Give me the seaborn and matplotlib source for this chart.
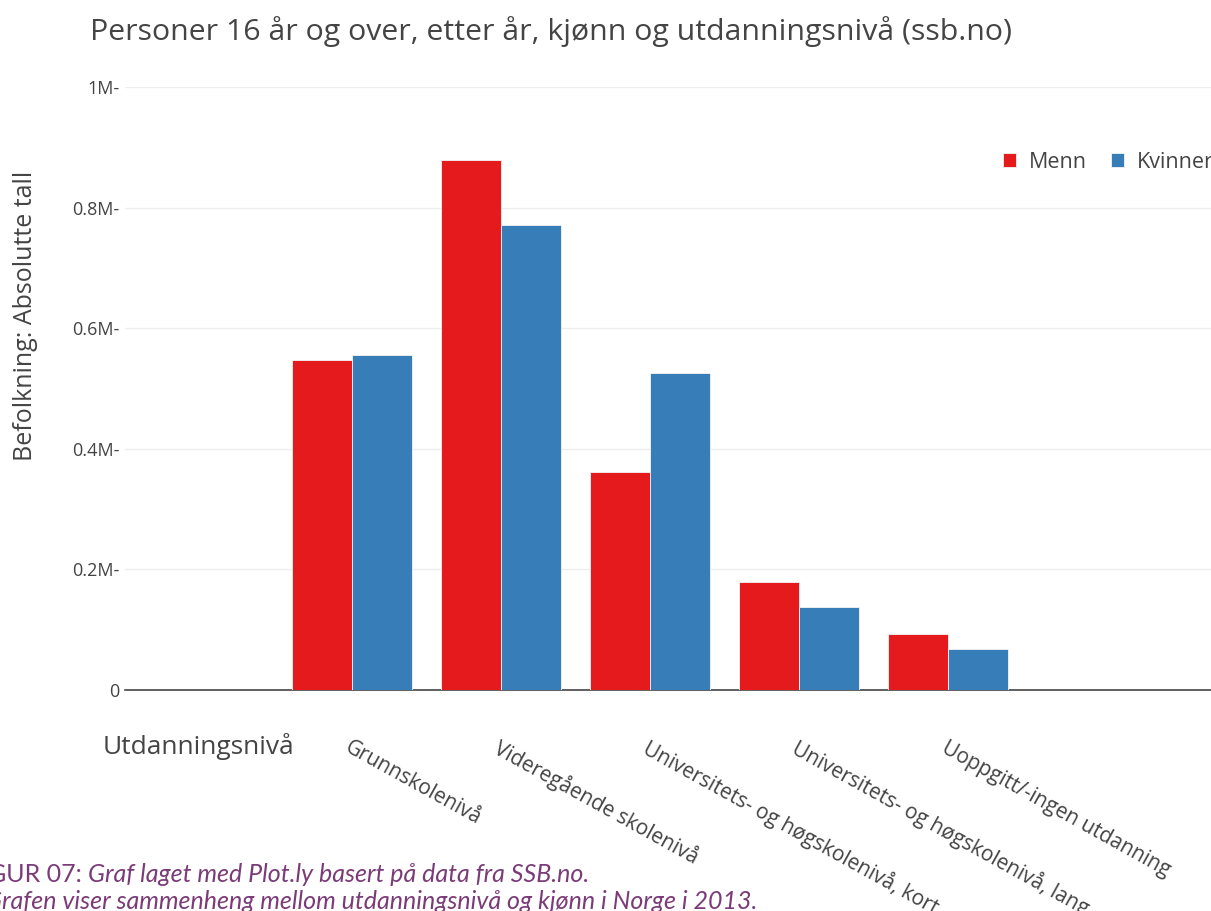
import seaborn as sns
import pandas as pd
import matplotlib.pyplot as plt
from matplotlib.ticker import FixedLocator

# data
levels = ["Grunnskolenivå", "Videregående skolenivå", "Universitets- og høgskolenivå, kort",
          "Universitets- og høgskolenivå, lang", "Uoppgitt/-ingen utdanning"]
menn = [547000, 879000, 362000, 179000, 93000]
kvinner = [556000, 771000, 526000, 138000, 68000]
y_ticks = [0, 200000, 400000, 600000, 800000, 1000000]
y_tick_labels = ["0", "0.2M-", "0.4M-", "0.6M-", "0.8M-", "1M-"]

df = pd.DataFrame({
    "Utdanningsnivå": levels * 2,
    "Kjønn": ["Menn"] * len(levels) + ["Kvinner"] * len(levels),
    "Antall": menn + kvinner,
})

sns.set_style("white")
plt.rcParams["font.family"] = ["Open Sans", "DejaVu Sans"]

W, H = 1211, 911
fig = plt.figure(figsize=(W / 100, H / 100), dpi=100)
ax = fig.add_axes([125 / W, (H - 690) / H, (1320 - 125) / W, 603 / H])

sns.barplot(data=df, x="Utdanningsnivå", y="Antall", hue="Kjønn",
            palette=["#e41a1c", "#377eb8"], saturation=1, width=0.8,
            edgecolor="#f4f4f4", linewidth=0.6, ax=ax, zorder=3)

ax.set_xlim(-1.523, (1320 - 352) / 149)
ax.set_ylim(0, 1000000)
ax.yaxis.set_major_locator(FixedLocator(y_ticks))
ax.set_yticklabels(y_tick_labels, fontsize=13, color="#444444")
ax.tick_params(axis="y", length=0, pad=4)
ax.grid(axis="y", color="#eeeeee", linewidth=1, zorder=0)
for s in ["top", "right", "left"]:
    ax.spines[s].set_visible(False)
ax.spines["bottom"].set_color("#444444")
ax.spines["bottom"].set_linewidth(1.2)

ax.set_xticks(range(len(levels)))
ax.set_xticklabels(levels, rotation=-29, ha="left", va="top",
                   rotation_mode="anchor", fontsize=15, color="#444444")
ax.tick_params(axis="x", length=0, pad=34)
ax.set_xlabel("")
ax.set_ylabel("Befolkning: Absolutte tall", fontsize=18, color="#444444")
ax.yaxis.set_label_coords(-(125 - 38) / 1195, 0.62)

fig.text(103 / W, 1 - 746 / H, "Utdanningsnivå", fontsize=19, color="#444444",
         ha="left", va="center")
fig.text(90 / W, 1 - 32 / H, "Personer 16 år og over, etter år, kjønn og utdanningsnivå (ssb.no)",
         fontsize=21.8, color="#444444", ha="left", va="center")

handles, labels = ax.get_legend_handles_labels()
ax.legend(handles, labels, ncol=2, frameon=False, fontsize=15.5,
          handlelength=0.6, handleheight=0.6, handletextpad=0.6, columnspacing=1.1,
          labelcolor="#444444", loc="center left",
          bbox_to_anchor=(984 / W, 1 - 162 / H), bbox_transform=fig.transFigure)

cap = "#7b3b78"
fig.text(82 / W, 1 - 882 / H, "FIGUR 07:", fontsize=18, color=cap, ha="right",
         va="baseline", family=["Lato", "DejaVu Sans"])
fig.text(88 / W, 1 - 882 / H, "Graf laget med Plot.ly basert på data fra SSB.no.",
         fontsize=18, color=cap, style="italic", ha="left", va="baseline",
         family=["Lato", "DejaVu Sans"])
fig.text(-15 / W, 1 - 909 / H,
         "Grafen viser sammenheng mellom utdanningsnivå og kjønn i Norge i 2013.",
         fontsize=18, color=cap, style="italic", ha="left", va="baseline",
         family=["Lato", "DejaVu Sans"])

fig.savefig("out.png", dpi=100)
